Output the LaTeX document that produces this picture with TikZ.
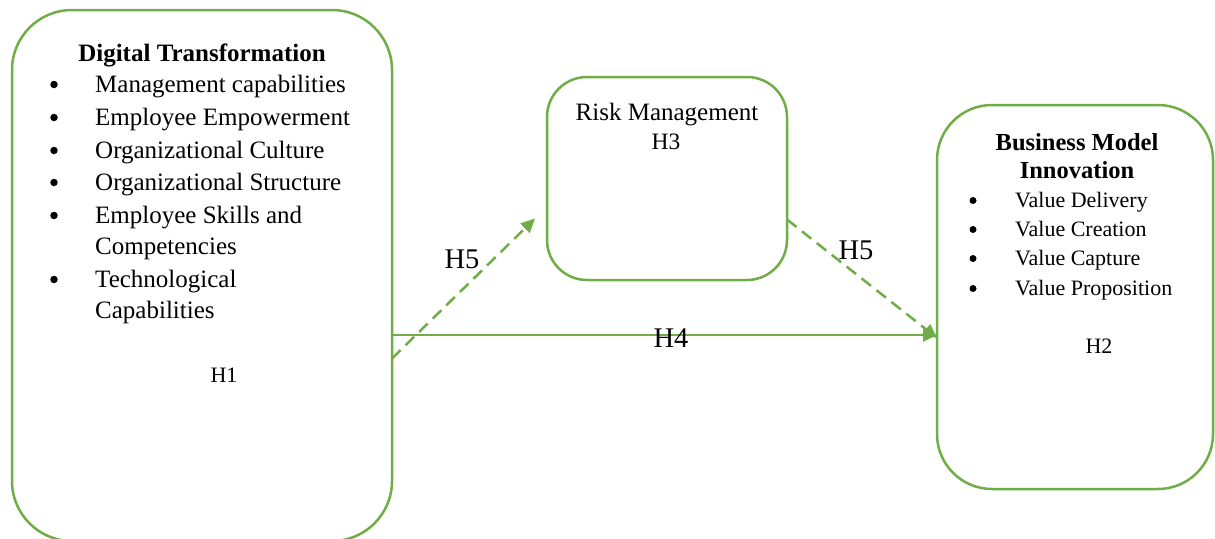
\documentclass[tikz,border=0pt]{standalone}
\usepackage{fontspec}
\setmainfont{Liberation Serif}
\usetikzlibrary{arrows.meta}
\definecolor{grn}{RGB}{112,173,71}
\begin{document}
\begin{tikzpicture}[x=1pt,y=-1pt,
  box/.style={draw=grn,line width=2.5pt,rectangle,inner sep=0pt,outer sep=0pt},
  conn/.style={draw=grn,line width=2.5pt,-{Triangle[length=14pt,width=13pt]}},
  dconn/.style={conn,dash pattern=on 12pt off 7pt},
  bigtxt/.style={font=\fontsize{25}{30}\selectfont,inner sep=0pt,anchor=base west},
  bigbold/.style={font=\fontsize{25}{30}\selectfont\bfseries,inner sep=0pt,anchor=base},
  smtxt/.style={font=\fontsize{22}{26}\selectfont,inner sep=0pt,anchor=base west},
  smbold/.style={font=\fontsize{24.5}{28}\selectfont\bfseries,inner sep=0pt,anchor=base},
  lbl/.style={font=\fontsize{#1}{#1}\selectfont,inner sep=0pt,anchor=base},
  bul/.style={circle,fill=black,inner sep=0pt,minimum size=#1}
]
\useasboundingbox (0,0) rectangle (1215,538);
\clip (0,0) rectangle (1215,538);
% boxes
\node[box,rounded corners=60pt,minimum width=380pt,minimum height=531pt] (dt) at (202,275.5) {};
\node[box,rounded corners=40pt,minimum width=240pt,minimum height=203pt] (rm) at (667,178.5) {};
\node[box,rounded corners=55pt,minimum width=276pt,minimum height=384pt] (bmi) at (1075,297) {};
% Digital Transformation texts
\node[bigbold] (dttitle) at (202,61) {Digital Transformation};
\foreach \yy/\tt [count=\i] in {92/Management capabilities,125/Employee Empowerment,158/Organizational Culture,190/Organizational Structure,223/Employee Skills and,287/Technological}{
  \node[bul=7.5pt] (dtb\i) at (54,\yy-7.5) {};
  \node[bigtxt] (dtt\i) at (95,\yy) {\tt};
}
\node[bigtxt] (dtt7) at (95,254) {Competencies};
\node[bigtxt] (dtt8) at (95,318) {Capabilities};
\node[lbl=22] (h1) at (224,382) {H1};
% Risk Management
\node[lbl=25] (rmt) at (667,120) {Risk Management};
\node[lbl=23.5] (h3) at (666,149) {H3};
% Business Model Innovation
\node[smbold] (bmt1) at (1077,150) {Business Model};
\node[smbold] (bmt2) at (1077,178) {Innovation};
\foreach \yy/\tt [count=\i] in {207/Value Delivery,236/Value Creation,265/Value Capture,295/Value Proposition}{
  \node[bul=7pt] (bmb\i) at (973,\yy-6.5) {};
  \node[smtxt] (bmv\i) at (1015,\yy) {\tt};
}
\node[lbl=22] (h2) at (1099,353) {H2};
% connectors
\draw[conn] ([yshift=-59.5pt]dt.east) -- ([yshift=-38pt]bmi.west);
\draw[dconn] ([yshift=-83pt]dt.east) -- ([xshift=-12pt,yshift=-40pt]rm.west);
\draw[dconn] ([yshift=-41pt]rm.east) -- ([yshift=-41pt]bmi.west);
% labels
\node[lbl=28.5] (h5a) at (462,268) {H5};
\node[lbl=28.5] (h4) at (671,347) {H4};
\node[lbl=28.5] (h5b) at (856,259) {H5};
\end{tikzpicture}
\end{document}
